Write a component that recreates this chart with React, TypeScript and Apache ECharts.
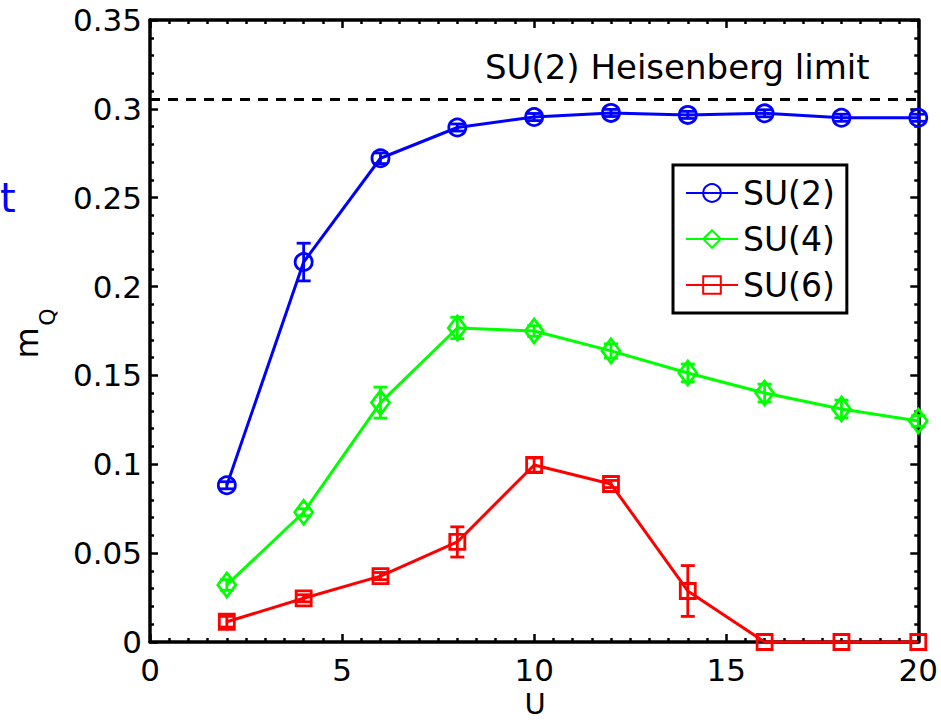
import React, { useEffect, useRef } from "react";
import * as echarts from "echarts";

const U = [2, 4, 6, 8, 10, 12, 14, 16, 18, 20];
const su2 = [0.0882, 0.2138, 0.2722, 0.2895, 0.2954, 0.2977, 0.2966, 0.2975, 0.295, 0.295];
const su2Err = [0.002, 0.0106, 0.003, 0.002, 0.002, 0.002, 0.002, 0.002, 0.002, 0.002];
const su4 = [0.0321, 0.073, 0.1347, 0.1767, 0.175, 0.1638, 0.1514, 0.1401, 0.1311, 0.1244];
const su4Err = [0.003, 0.002, 0.0087, 0.006, 0.003, 0.004, 0.005, 0.005, 0.005, 0.003];
const su6 = [0.0114, 0.0246, 0.0371, 0.0563, 0.0996, 0.0889, 0.0287, 0, 0, 0];
const su6Err = [0.003, 0.002, 0.002, 0.0085, 0.004, 0.002, 0.0143, 0, 0, 0];
const heisenbergLimit = 0.3055;
const seriesNames = ["SU(2)", "SU(4)", "SU(6)"];
const seriesColors = ["#0000ff", "#00ff00", "#ff0000"];

const FONT = "DejaVu Sans";
const W = 941;
const H = 720;
const GRID = { left: 150, right: 21, top: 20, bottom: 78 };

function errSeries(vals: number[], errs: number[], color: string) {
  return {
    type: "custom",
    xAxisIndex: 0,
    yAxisIndex: 0,
    silent: true,
    z: 3,
    encode: { x: 0, y: 1 },
    data: U.map((u, i) => [u, vals[i], errs[i]]),
    renderItem: (params: any, api: any) => {
      const x = api.value(0);
      const y = api.value(1);
      const e = api.value(2);
      if (!e) return { type: "group", children: [] };
      const top = api.coord([x, y + e]);
      const bot = api.coord([x, y - e]);
      const hw = 7;
      const st = { stroke: color, lineWidth: 2.8 };
      return {
        type: "group",
        children: [
          { type: "line", shape: { x1: top[0], y1: top[1], x2: bot[0], y2: bot[1] }, style: st },
          { type: "line", shape: { x1: top[0] - hw, y1: top[1], x2: top[0] + hw, y2: top[1] }, style: st },
          { type: "line", shape: { x1: bot[0] - hw, y1: bot[1], x2: bot[0] + hw, y2: bot[1] }, style: st },
        ],
      };
    },
  };
}

function lineSeries(name: string, vals: number[], color: string, symbol: string, size: any, extra: any = {}) {
  return {
    name,
    type: "line",
    xAxisIndex: 0,
    yAxisIndex: 0,
    data: U.map((u, i) => [u, vals[i]]),
    symbol,
    symbolSize: size,
    showSymbol: true,
    z: 4,
    lineStyle: { color, width: 3 },
    itemStyle: { color: "rgba(0,0,0,0)", borderColor: color, borderWidth: 2.8 },
    emphasis: { disabled: true },
    ...extra,
  };
}

const lineOn = { show: true, onZero: false, lineStyle: { color: "#000", width: 3.5 } };
const tickOn = { show: true, inside: true, length: 8, lineStyle: { color: "#000", width: 2.5 } };
const xRange = { type: "value", min: 0, max: 20, interval: 5, splitLine: { show: false } };
const yRange = { type: "value", min: 0, max: 0.35, interval: 0.05, splitLine: { show: false } };
const xMinor = { show: true, splitNumber: 10, length: 4, lineStyle: { color: "#000", width: 2.5 } };
const yMinor = { show: true, splitNumber: 5, length: 4, lineStyle: { color: "#000", width: 2.5 } };

export default function App() {
  const ref = useRef<HTMLDivElement>(null);
  useEffect(() => {
    if (!ref.current) return;
    const chart = echarts.init(ref.current, null, { renderer: "svg" });
    chart.setOption({
      animation: false,
      backgroundColor: "#fff",
      grid: { ...GRID, containLabel: false },
      xAxis: [
        {
          ...xRange,
          position: "bottom",
          axisLine: lineOn,
          axisTick: tickOn,
          minorTick: xMinor,
          axisLabel: { color: "#000", fontFamily: FONT, fontSize: 31, lineHeight: 24, margin: 16 },
        },
        {
          ...xRange,
          position: "top",
          axisLine: lineOn,
          axisTick: tickOn,
          minorTick: xMinor,
          axisLabel: { show: false },
        },
      ],
      yAxis: [
        {
          ...yRange,
          position: "left",
          axisLine: lineOn,
          axisTick: tickOn,
          minorTick: yMinor,
          axisLabel: { color: "#000", fontFamily: FONT, fontSize: 31, margin: 8 },
        },
        {
          ...yRange,
          position: "right",
          axisLine: lineOn,
          axisTick: tickOn,
          minorTick: yMinor,
          axisLabel: { show: false },
        },
      ],
      legend: {
        data: seriesNames,
        orient: "vertical",
        left: 673,
        top: 165,
        padding: [10, 12, 10, 12],
        itemWidth: 52,
        itemHeight: 22,
        itemGap: 10,
        borderColor: "#000",
        borderWidth: 3,
        backgroundColor: "#fff",
        textStyle: { color: "#000", fontFamily: FONT, fontSize: 33, lineHeight: 36 },
      },
      graphic: [
        {
          type: "text",
          x: 485,
          y: 67,
          style: { text: "SU(2) Heisenberg limit", fill: "#000", font: `34px "${FONT}"`, textVerticalAlign: "middle", textAlign: "left" },
        },
        {
          type: "text",
          x: 535,
          y: 704,
          style: { text: "U", fill: "#000", font: `29px "${FONT}"`, textVerticalAlign: "middle", textAlign: "center" },
        },
        {
          type: "text",
          x: 27,
          y: 343,
          rotation: Math.PI / 2,
          style: { text: "m", fill: "#000", font: `32px "${FONT}"`, textVerticalAlign: "middle", textAlign: "center" },
        },
        {
          type: "text",
          x: 47,
          y: 317,
          rotation: Math.PI / 2,
          style: { text: "Q", fill: "#000", font: `22px "${FONT}"`, textVerticalAlign: "middle", textAlign: "center" },
        },
        {
          type: "text",
          x: 0,
          y: 198,
          style: { text: "t", fill: "#0000ff", font: `40px "${FONT}"`, textVerticalAlign: "middle", textAlign: "left" },
        },
      ],
      series: [
        errSeries(su2, su2Err, seriesColors[0]),
        errSeries(su4, su4Err, seriesColors[1]),
        errSeries(su6, su6Err, seriesColors[2]),
        lineSeries(seriesNames[0], su2, seriesColors[0], "circle", 17, {
          markLine: {
            silent: true,
            symbol: "none",
            precision: 4,
            label: { show: false },
            lineStyle: { color: "#000", type: [10, 8], width: 2.8 },
            data: [{ yAxis: heisenbergLimit }],
          },
        }),
        lineSeries(seriesNames[1], su4, seriesColors[1], "diamond", [18, 24]),
        lineSeries(seriesNames[2], su6, seriesColors[2], "rect", 15),
      ],
    });
    return () => chart.dispose();
  }, []);
  return <div ref={ref} style={{ position: "absolute", left: 0, top: 0, width: W, height: H }} />;
}
